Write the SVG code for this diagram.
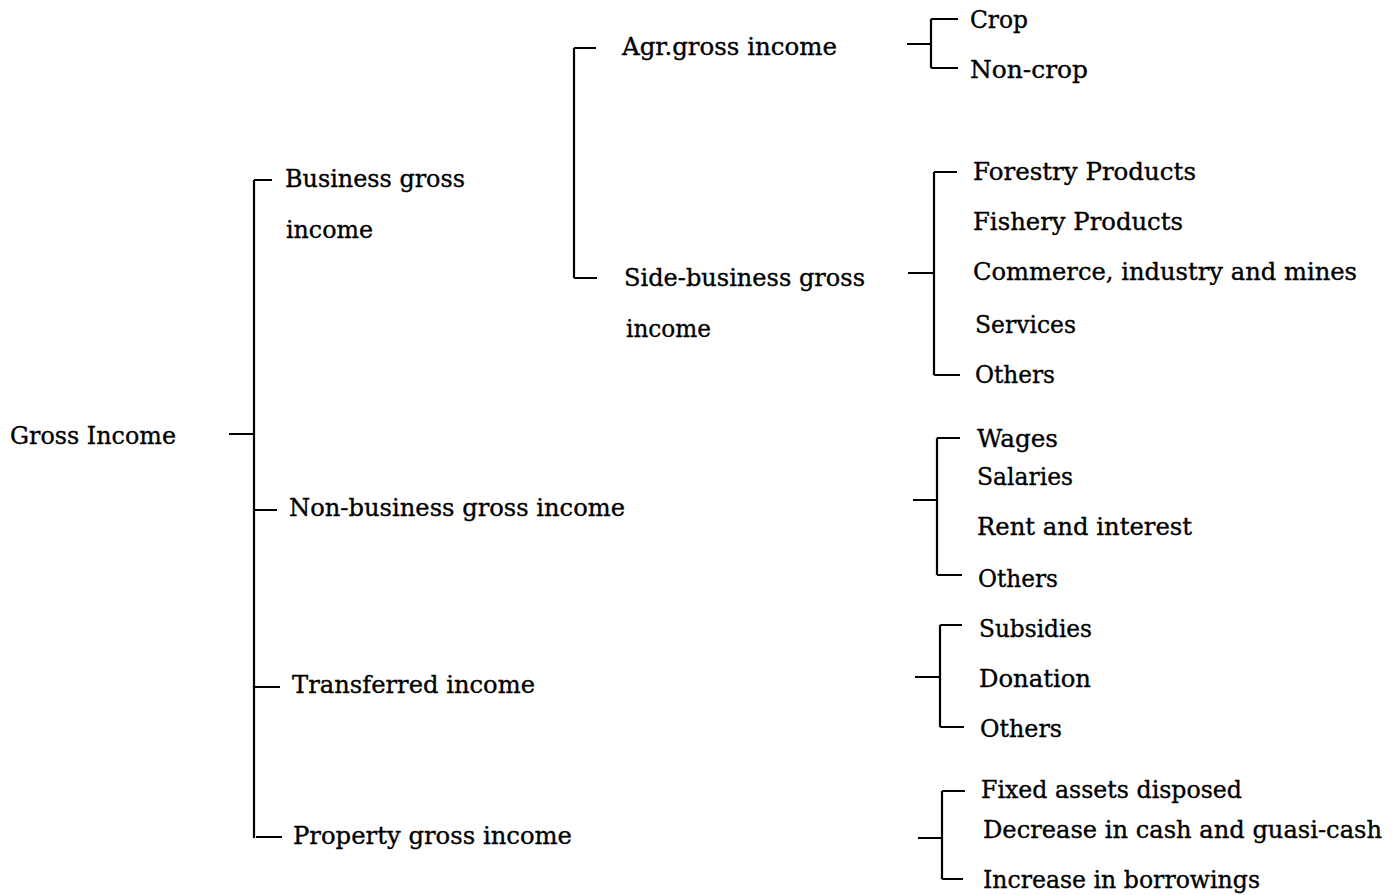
<svg xmlns="http://www.w3.org/2000/svg" width="1400" height="895" viewBox="0 0 1400 895">
<style>
text{font-family:"DejaVu Serif","Liberation Serif",serif;font-size:24px;fill:#000;stroke:#000;stroke-width:0.35}
.c{stroke:#000;stroke-width:2.2;fill:none}
</style>
<rect width="1400" height="895" fill="#fff"/>
<g id="connectors">
<path class="c" d="M229,434H254M254,180V838M254,180H272M254,510H277M255,687H280M256,837H282"/>
<path class="c" d="M574,48V278M574,48H596M574,278H597"/>
<path class="c" d="M907,44H931M931,19V68M931,19H958M931,68H958"/>
<path class="c" d="M908,273H934M934,172V375M934,172H957M934,375H960"/>
<path class="c" d="M913,500H937M937,438V575M937,438H960M937,575H962"/>
<path class="c" d="M915,677H940M940,625V727M940,625H962M940,727H964"/>
<path class="c" d="M918,838H942M942,791V879M942,791H965M942,879H963"/>
</g>
<g id="gross-income"><text x="10" y="444" textLength="166" lengthAdjust="spacingAndGlyphs">Gross Income</text></g>
<g id="business"><text x="285" y="187" textLength="180" lengthAdjust="spacingAndGlyphs">Business gross</text><text x="286" y="238" textLength="87" lengthAdjust="spacingAndGlyphs">income</text></g>
<g id="agr"><text x="622" y="55" textLength="215" lengthAdjust="spacingAndGlyphs">Agr.gross income</text></g>
<g id="crop"><text x="970" y="28" textLength="58" lengthAdjust="spacingAndGlyphs">Crop</text></g>
<g id="non-crop"><text x="970" y="78" textLength="118" lengthAdjust="spacingAndGlyphs">Non-crop</text></g>
<g id="side-business"><text x="624" y="286" textLength="241" lengthAdjust="spacingAndGlyphs">Side-business gross</text><text x="626" y="337" textLength="85" lengthAdjust="spacingAndGlyphs">income</text></g>
<g id="forestry"><text x="973" y="180" textLength="223" lengthAdjust="spacingAndGlyphs">Forestry Products</text></g>
<g id="fishery"><text x="973" y="230" textLength="210" lengthAdjust="spacingAndGlyphs">Fishery Products</text></g>
<g id="commerce"><text x="973" y="280" textLength="384" lengthAdjust="spacingAndGlyphs">Commerce, industry and mines</text></g>
<g id="services"><text x="975" y="333" textLength="101" lengthAdjust="spacingAndGlyphs">Services</text></g>
<g id="others1"><text x="975" y="383" textLength="80" lengthAdjust="spacingAndGlyphs">Others</text></g>
<g id="non-business"><text x="289" y="516" textLength="336" lengthAdjust="spacingAndGlyphs">Non-business gross income</text></g>
<g id="wages"><text x="977" y="447" textLength="81" lengthAdjust="spacingAndGlyphs">Wages</text></g>
<g id="salaries"><text x="977" y="485" textLength="96" lengthAdjust="spacingAndGlyphs">Salaries</text></g>
<g id="rent"><text x="977" y="535" textLength="215" lengthAdjust="spacingAndGlyphs">Rent and interest</text></g>
<g id="others2"><text x="978" y="587" textLength="80" lengthAdjust="spacingAndGlyphs">Others</text></g>
<g id="transferred"><text x="292" y="693" textLength="243" lengthAdjust="spacingAndGlyphs">Transferred income</text></g>
<g id="subsidies"><text x="979" y="637" textLength="113" lengthAdjust="spacingAndGlyphs">Subsidies</text></g>
<g id="donation"><text x="979" y="687" textLength="112" lengthAdjust="spacingAndGlyphs">Donation</text></g>
<g id="others3"><text x="980" y="737" textLength="82" lengthAdjust="spacingAndGlyphs">Others</text></g>
<g id="property"><text x="293" y="844" textLength="279" lengthAdjust="spacingAndGlyphs">Property gross income</text></g>
<g id="fixed"><text x="981" y="798" textLength="261" lengthAdjust="spacingAndGlyphs">Fixed assets disposed</text></g>
<g id="decrease"><text x="983" y="838" textLength="399" lengthAdjust="spacingAndGlyphs">Decrease in cash and guasi-cash</text></g>
<g id="increase"><text x="983" y="888" textLength="277" lengthAdjust="spacingAndGlyphs">Increase in borrowings</text></g>
</svg>
